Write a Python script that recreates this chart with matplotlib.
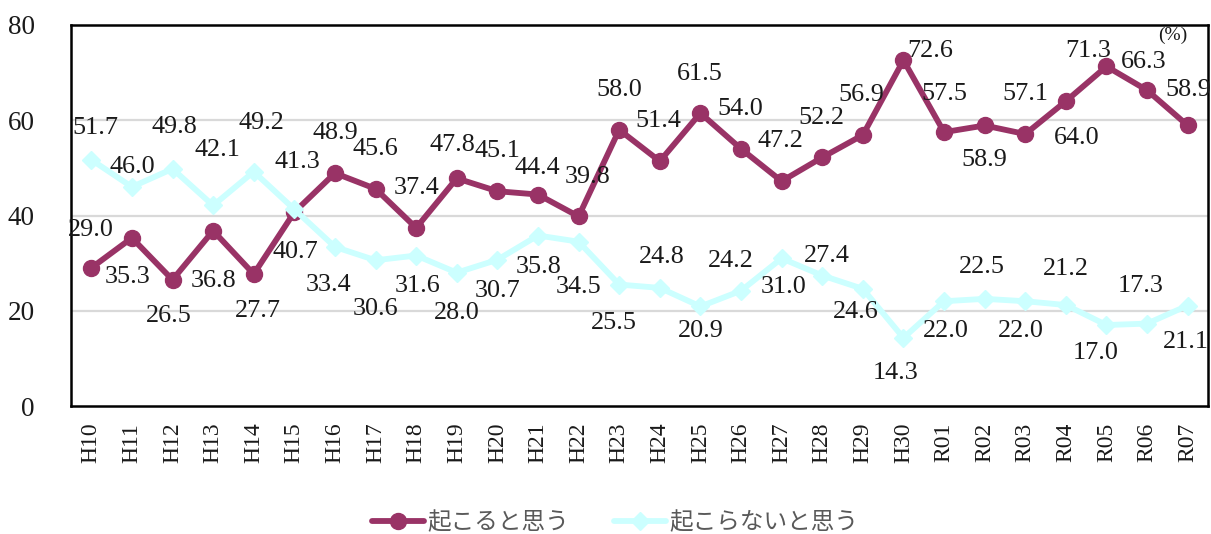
import matplotlib
matplotlib.use("Agg")
import matplotlib.pyplot as plt
from matplotlib.lines import Line2D

# Survey categories (fiscal years)
years = ["H10", "H11", "H12", "H13", "H14", "H15", "H16", "H17", "H18", "H19",
         "H20", "H21", "H22", "H23", "H24", "H25", "H26", "H27", "H28", "H29",
         "H30", "R01", "R02", "R03", "R04", "R05", "R06", "R07"]

# 起こると思う (%)
will_occur = [29.0, 35.3, 26.5, 36.8, 27.7, 40.7, 48.9, 45.6, 37.4, 47.8,
              45.1, 44.4, 39.8, 58.0, 51.4, 61.5, 54.0, 47.2, 52.2, 56.9,
              72.6, 57.5, 58.9, 57.1, 64.0, 71.3, 66.3, 58.9]

# 起こらないと思う (%)
will_not_occur = [51.7, 46.0, 49.8, 42.1, 49.2, 41.3, 33.4, 30.6, 31.6, 28.0,
                  30.7, 35.8, 34.5, 25.5, 24.8, 20.9, 24.2, 31.0, 27.4, 24.6,
                  14.3, 22.0, 22.5, 22.0, 21.2, 17.0, 17.3, 21.1]

series_names = ["起こると思う", "起こらないと思う"]
y_ticks = [0, 20, 40, 60, 80]

# Label placement (pixel offsets: dx right, dy down) for each point
occur_label_offsets = [(0, -38), (-4, 39), (-4, 36), (0, 50), (4, 37), (1, 40),
                       (0, -40), (0, -40), (0, -40), (-4, -33), (0, -40), (-1, -27),
                       (9, -39), (0, -40), (-1, -40), (-1, -39), (-1, -40), (-1, -40),
                       (-1, -39), (-2, -40), (27, -9), (0, -38), (0, 35), (0, -40),
                       (11, 37), (-18, -15), (-3, -28), (1, -35)]
not_occur_label_offsets = [(4, -32), (0, -20), (2, -42), (4, -55), (8, -49), (3, -47),
                           (-6, 38), (0, 49), (1, 30), (0, 40), (0, 31), (1, 31),
                           (0, 45), (-5, 38), (2, -31), (0, 25), (-10, -30), (2, 29),
                           (5, -20), (-7, 23), (-8, 35), (2, 30), (-3, -32), (-4, 30),
                           (0, -36), (-11, 28), (-6, -38), (-2, 36)]

MAROON = "#993366"
CYAN = "#CCFFFF"
NUM_FONT = "Liberation Serif"
JP_FONT = ["Noto Sans CJK JP", "DejaVu Sans"]

fig = plt.figure(figsize=(12.11, 5.34), dpi=100)
ax = fig.add_axes([71 / 1211, 1 - 406 / 534, (1208 - 71) / 1211, (406 - 25) / 534])

x = list(range(len(years)))

ax.plot(x, will_occur, color=MAROON, lw=4.2, marker="o", ms=11.5,
        solid_capstyle="round", solid_joinstyle="round", zorder=3)
ax.plot(x, will_not_occur, color=CYAN, lw=4.2, marker="D", ms=9.5,
        solid_capstyle="round", solid_joinstyle="round", zorder=4)

for vals, offs in ((will_occur, occur_label_offsets),
                   (will_not_occur, not_occur_label_offsets)):
    for xi, v, (dx, dy) in zip(x, vals, offs):
        ax.annotate(f"{v:.1f}", (xi, v), xytext=(dx, -dy), textcoords="offset pixels",
                    ha="center", va="center", fontsize=18.8, family=NUM_FONT,
                    color="#1a1a1a", zorder=5, annotation_clip=False)

ax.set_xlim(-0.5, len(years) - 0.5)
ax.set_ylim(0, 80)
ax.set_yticks(y_ticks)
ax.set_yticklabels([str(t) for t in y_ticks], family=NUM_FONT, fontsize=19.5)
ax.set_xticks(x)
ax.set_xticklabels(years, rotation=90, family=NUM_FONT, fontsize=17)
ax.tick_params(axis="both", length=0, colors="#1a1a1a")
ax.tick_params(axis="y", pad=26)
ax.tick_params(axis="x", pad=12)

for yv in y_ticks[1:-1]:
    ax.axhline(yv, color="#d9d9d9", lw=1.6, zorder=1)
for sp in ax.spines.values():
    sp.set_linewidth(1.8)
    sp.set_color("black")

ax.text(1173 / 1211, 1 - 35 / 534, "(%)", transform=fig.transFigure,
        ha="center", va="center", fontsize=14, family=NUM_FONT, color="#1a1a1a")

handles = [
    Line2D([], [], color=MAROON, lw=4.2, marker="o", ms=11.5, solid_capstyle="round"),
    Line2D([], [], color=CYAN, lw=4.2, marker="D", ms=9.5, solid_capstyle="round"),
]
fig.legend(handles, series_names, loc="center", bbox_to_anchor=(615 / 1211, 1 - 523 / 534),
           ncol=2, frameon=False, handlelength=2.2, columnspacing=1.9, handletextpad=0.15,
           prop={"family": JP_FONT, "size": 17}, labelcolor="#595959")

fig.savefig("out.png", dpi=100)
